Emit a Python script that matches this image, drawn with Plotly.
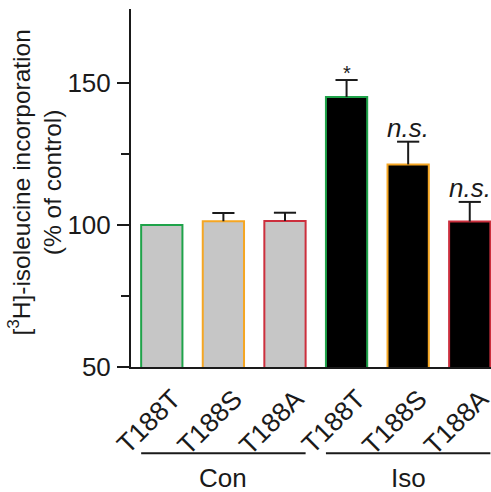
import plotly.graph_objects as go

categories = ["T188T", "T188S", "T188A", "T188T", "T188S", "T188A"]
groups = ["Con", "Iso"]
values = [100.0, 101.3, 101.4, 145.0, 121.3, 101.2]
err_top = [100.0, 104.2, 104.3, 151.0, 129.3, 108.1]
labels_sig = ["", "", "", "*", "n.s.", "n.s."]
fill_colors = ["#c6c6c6", "#c6c6c6", "#c6c6c6", "#000000", "#000000", "#000000"]
edge_colors = ["#1fa34a", "#f5a623", "#cc2f3d", "#1fa34a", "#f5a623", "#cc2f3d"]
y_title = "[<sup>3</sup>H]-isoleucine incorporation<br>(% of control)"

FONT = "Liberation Sans, Arial, sans-serif"
TXT = "#1a1a1a"
BW = 0.67
CAP = 0.18
xs = list(range(len(values)))

fig = go.Figure()
fig.add_trace(go.Bar(
    x=xs, y=values, width=BW,
    marker=dict(color=fill_colors, line=dict(color=edge_colors, width=2)),
    hoverinfo="skip",
))

# upper-only error bars as line segments built from the data
ex, ey = [], []
for i, (v, e) in enumerate(zip(values, err_top)):
    if e > v:
        ex += [i, i, None, i - CAP, i + CAP, None]
        ey += [v, e, None, e, e, None]
fig.add_trace(go.Scatter(x=ex, y=ey, mode="lines", line=dict(color=TXT, width=2),
                         hoverinfo="skip", cliponaxis=False))

for i, (s, e) in enumerate(zip(labels_sig, err_top)):
    if s:
        fig.add_annotation(x=i, y=e, xref="x", yref="y",
                           text=("<i>%s</i>" % s if s != "*" else s), showarrow=False,
                           yanchor="bottom", yshift=(-6 if s == "*" else -3),
                           font=dict(family=FONT, size=(20 if s == "*" else 26), color=TXT))

# group lines and labels
for g, idx in zip(groups, [[0, 1, 2], [3, 4, 5]]):
    fig.add_shape(type="line", xref="x", yref="paper",
                  x0=idx[0] - BW / 2, x1=idx[-1] + BW / 2, y0=-0.241, y1=-0.241,
                  line=dict(color=TXT, width=2))
    fig.add_annotation(x=idx[1], y=-0.31, xref="x", yref="paper", text=g, showarrow=False,
                       yanchor="middle", font=dict(family=FONT, size=26, color=TXT))

# y-axis title
fig.add_annotation(x=-0.2667, y=0.515, xref="paper", yref="paper", text=y_title,
                   showarrow=False, textangle=-90, xanchor="center", yanchor="middle",
                   font=dict(family=FONT, size=24.5, color=TXT))

fig.update_layout(
    width=491, height=492,
    margin=dict(l=131, r=0, t=9, b=125),
    plot_bgcolor="white", paper_bgcolor="white",
    showlegend=False,
    font=dict(family=FONT, size=26, color=TXT),
    xaxis=dict(range=[-0.5, 5.345], tickmode="array", tickvals=xs, ticktext=categories,
               tickangle=-45, showline=True, linecolor=TXT, linewidth=2,
               ticks="", showgrid=False, zeroline=False, automargin=False,
               ticklabelshift=11, ticklabelstandoff=4, ticklabeloverflow="allow",
               tickfont=dict(family=FONT, size=26.5, color=TXT)),
    yaxis=dict(range=[50, 176], tickvals=[50, 100, 150], showline=True, linecolor=TXT,
               linewidth=2, ticks="outside", ticklen=12, tickwidth=2, tickcolor=TXT,
               showgrid=False, zeroline=False, automargin=False, ticklabelstandoff=1,
               minor=dict(tickvals=[75, 125], ticks="outside", ticklen=8, tickwidth=2, tickcolor=TXT),
               tickfont=dict(family=FONT, size=26, color=TXT)),
)

fig.write_html("out.html", config={"displayModeBar": False},
               post_script="document.body.style.margin='0';document.body.style.overflow='hidden';")
